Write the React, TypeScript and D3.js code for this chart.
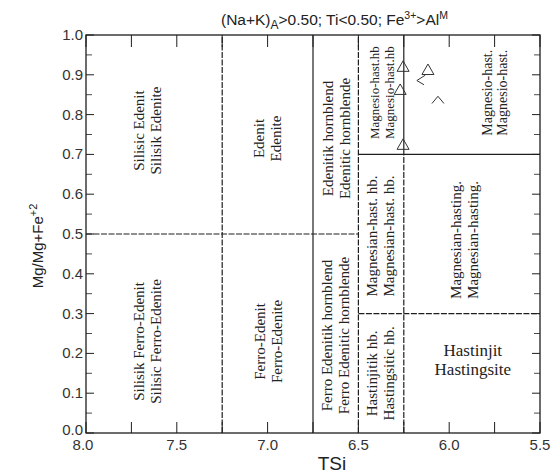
import React from "react";
import * as d3 from "d3";

// Classification fields of the amphibole diagram, (Na+K)A>0.50; Ti<0.50; Fe3+>AlVI
const TSI_TICKS = [8.0, 7.5, 7.0, 6.5, 6.0, 5.5];
const MG_TICKS = [0.0, 0.1, 0.2, 0.3, 0.4, 0.5, 0.6, 0.7, 0.8, 0.9, 1.0];

// Field boundaries (TSi, Mg/Mg+Fe2)
const BOUNDARIES = [
  { x1: 7.25, y1: 0, x2: 7.25, y2: 1, dashed: true },
  { x1: 6.75, y1: 0, x2: 6.75, y2: 1, dashed: false },
  { x1: 6.5, y1: 0, x2: 6.5, y2: 1, dashed: true },
  { x1: 6.25, y1: 0.7, x2: 6.25, y2: 1, dashed: false },
  { x1: 6.25, y1: 0, x2: 6.25, y2: 0.7, dashed: true },
  { x1: 8.0, y1: 0.5, x2: 6.5, y2: 0.5, dashed: true },
  { x1: 6.5, y1: 0.7, x2: 5.5, y2: 0.7, dashed: false },
  { x1: 6.5, y1: 0.3, x2: 5.5, y2: 0.3, dashed: true },
];

// Field names (Turkish / English) with the anchor of each label in data units
const FIELDS = [
  { tsi: 7.66, mg: 0.76, vertical: true, size: 15, lines: ["Silisic Edenit", "Silisik Edenite"] },
  { tsi: 7.0, mg: 0.74, vertical: true, size: 15, lines: ["Edenit", "Edenite"] },
  { tsi: 6.62, mg: 0.74, vertical: true, size: 15, lines: ["Edenitik hornblend", "Edenitic hornblende"] },
  { tsi: 7.66, mg: 0.23, vertical: true, size: 15, lines: ["Silisik Ferro-Edenit", "Silisic Ferro-Edenite"] },
  { tsi: 6.995, mg: 0.23, vertical: true, size: 15, lines: ["Ferro-Edenit", "Ferro-Edenite"] },
  { tsi: 6.625, mg: 0.245, vertical: true, size: 15, lines: ["Ferro Edenitik hornblend", "Ferro Edenitic hornblende"] },
  { tsi: 6.37, mg: 0.855, vertical: true, size: 13, lines: ["Magnesio-hast.hb", "Magnesio-hast.hb"] },
  { tsi: 5.75, mg: 0.855, vertical: true, size: 14, lines: ["Magnesio-hast.", "Magnesio-hast."] },
  { tsi: 6.38, mg: 0.495, vertical: true, size: 15, lines: ["Magnesian-hast. hb.", "Magnesian-hast. hb."] },
  { tsi: 5.915, mg: 0.485, vertical: true, size: 15, lines: ["Magnesian-hasting.", "Magnesian-hasting."] },
  { tsi: 6.38, mg: 0.15, vertical: true, size: 15, lines: ["Hastinjitik hb.", "Hastingsitic hb."] },
  { tsi: 5.87, mg: 0.185, vertical: false, size: 17, lines: ["Hastinjit", "Hastingsite"] },
];

// Analysed amphiboles
const SAMPLE_TSI = [6.254, 6.27, 6.254, 6.117, 6.155, 6.062];
const SAMPLE_MG = [0.92, 0.862, 0.724, 0.912, 0.887, 0.837];
const SAMPLE_SYMBOL = ["triangle", "triangle", "triangle", "triangle", "chevronLeft", "chevronUp"];

const W = 558;
const H = 475;
const M = { left: 86, right: 18, top: 35, bottom: 42 };

export default function App() {
  const x = d3.scaleLinear().domain([8.0, 5.5]).range([M.left, W - M.right]);
  const y = d3.scaleLinear().domain([0, 1]).range([H - M.bottom, M.top]);
  const ink = "#1e1e1e";
  const serif = "'Liberation Serif', 'DejaVu Serif', serif";
  const sans = "'Liberation Sans', Arial, sans-serif";

  const xMinor = d3.range(8.0, 5.49, -0.25);
  const yMinor = d3.range(0, 1.001, 0.05);

  const symbolPath = (kind: string) => {
    const s = 6;
    if (kind === "triangle") return `M0,${-s}L${s},${s * 0.75}L${-s},${s * 0.75}Z`;
    if (kind === "chevronLeft") return `M${s * 0.7},${-s * 0.8}L${-s * 0.7},${s * 0.1}L${s * 0.5},${s * 0.8}`;
    return `M${-s},${s * 0.6}L0,${-s * 0.6}L${s},${s * 0.6}`;
  };

  return (
    <svg width={W} height={H} style={{ position: "absolute", left: 0, top: 0, background: "#fff" }}>
      {/* title */}
      <text x={221} y={25} fontFamily={sans} fontSize={15.5} fill="#222">
        (Na+K)
        <tspan fontSize={12} dy={4}>A</tspan>
        <tspan dy={-4}>&gt;0.50; Ti&lt;0.50; Fe</tspan>
        <tspan fontSize={10.5} dy={-6}>3+</tspan>
        <tspan dy={6}>&gt;Al</tspan>
        <tspan fontSize={10.5} dy={-6}>M</tspan>
      </text>

      {/* frame */}
      <rect
        x={x(8.0)}
        y={y(1)}
        width={x(5.5) - x(8.0)}
        height={y(0) - y(1)}
        fill="none"
        stroke={ink}
        strokeWidth={1.3}
      />

      {/* ticks */}
      {xMinor.map((v, i) => (
        <g key={`xt${i}`}>
          <line x1={x(v)} x2={x(v)} y1={y(1)} y2={y(1) + 12} stroke={ink} strokeWidth={1} />
          <line x1={x(v)} x2={x(v)} y1={y(0)} y2={y(0) - 11} stroke={ink} strokeWidth={1} />
        </g>
      ))}
      {yMinor.map((v, i) => {
        const major = i % 2 === 0;
        const len = major ? 8 : 6;
        return (
          <g key={`yt${i}`}>
            <line x1={x(8.0)} x2={x(8.0) + len} y1={y(v)} y2={y(v)} stroke={ink} strokeWidth={major ? 1 : 0.8} />
            <line x1={x(5.5)} x2={x(5.5) - len} y1={y(v)} y2={y(v)} stroke={ink} strokeWidth={major ? 1 : 0.8} />
          </g>
        );
      })}

      {/* field boundaries */}
      {BOUNDARIES.map((b, i) => (
        <line
          key={`b${i}`}
          x1={x(b.x1)}
          y1={y(b.y1)}
          x2={x(b.x2)}
          y2={y(b.y2)}
          stroke={ink}
          strokeWidth={1.2}
          strokeDasharray={b.dashed ? "6,1.5" : undefined}
        />
      ))}

      {/* tick labels */}
      {TSI_TICKS.map((v) => (
        <text
          key={`xl${v}`}
          x={x(v) - (v === 8.0 ? 3 : 0)}
          y={y(0) + 17}
          textAnchor="middle"
          fontFamily={sans}
          fontSize={15}
          fill="#333"
        >
          {v.toFixed(1)}
        </text>
      ))}
      {MG_TICKS.map((v) => (
        <text
          key={`yl${v}`}
          x={x(8.0) - 3}
          y={y(v) + (v === 0 ? 2 : 5)}
          textAnchor="end"
          fontFamily={sans}
          fontSize={15}
          fill="#333"
        >
          {v.toFixed(1)}
        </text>
      ))}

      {/* axis titles */}
      <text x={332} y={470} textAnchor="middle" fontFamily={sans} fontSize={19} fill="#222">
        TSi
      </text>
      <text
        transform={`translate(43,${y(0.47)}) rotate(-90)`}
        textAnchor="middle"
        fontFamily={sans}
        fontSize={15}
        fill="#222"
      >
        Mg/Mg+Fe
        <tspan fontSize={11} dy={-6}>+2</tspan>
      </text>

      {/* field names */}
      {FIELDS.map((f, i) => {
        const cx = x(f.tsi);
        const cy = y(f.mg);
        const gap = f.size + 2;
        const n = f.lines.length;
        return (
          <g
            key={`f${i}`}
            transform={f.vertical ? `translate(${cx},${cy}) rotate(-90)` : `translate(${cx},${cy})`}
          >
            {f.lines.map((t, j) => (
              <text
                key={j}
                x={0}
                y={(j - (n - 1) / 2) * gap}
                dy="0.35em"
                textAnchor="middle"
                fontFamily={serif}
                fontSize={f.size}
                fill="#222"
              >
                {t}
              </text>
            ))}
          </g>
        );
      })}

      {/* samples */}
      {SAMPLE_TSI.map((t, i) => (
        <path
          key={`p${i}`}
          d={symbolPath(SAMPLE_SYMBOL[i])}
          transform={`translate(${x(t)},${y(SAMPLE_MG[i])})`}
          fill="none"
          stroke="#333"
          strokeWidth={1}
        />
      ))}
    </svg>
  );
}
